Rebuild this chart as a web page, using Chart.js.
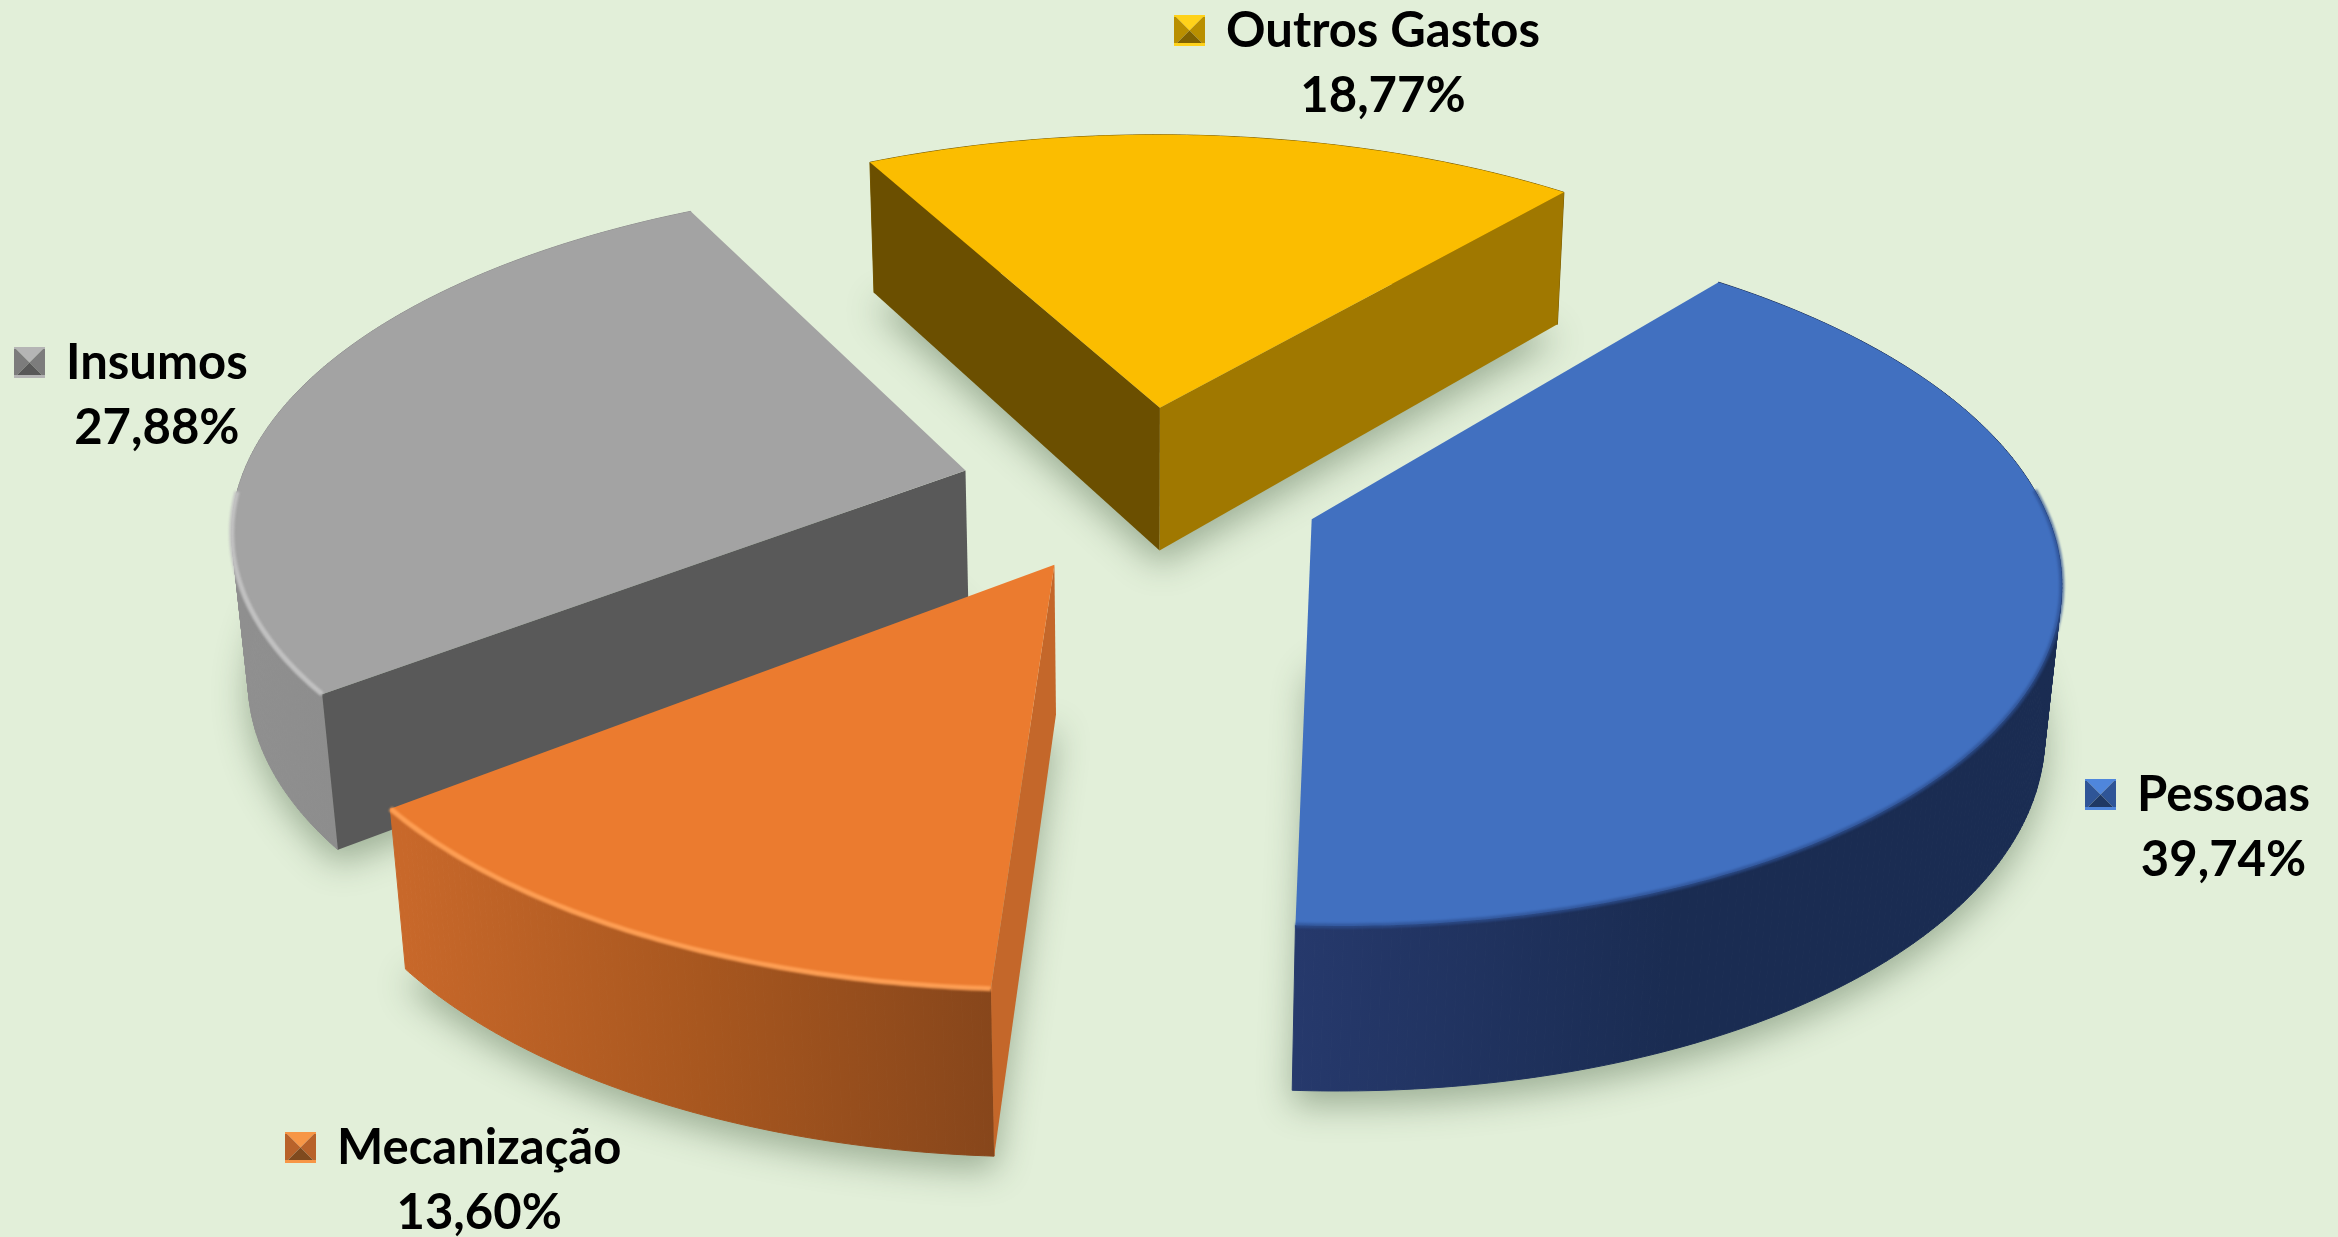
<!DOCTYPE html>
<html>
<head>
<meta charset="utf-8">
<style>
  html, body { margin: 0; padding: 0; background: #e2efd9; }
  #wrap { width: 2338px; height: 1237px; }
</style>
<script src="https://cdn.jsdelivr.net/npm/chart.js@4/dist/chart.umd.js"></script>
</head>
<body>
<div id="wrap"><canvas id="pie" width="2338" height="1237"></canvas></div>
<script>
const categories = ['Pessoas', 'Mecanização', 'Insumos', 'Outros Gastos'];
const values = [39.74, 13.60, 27.88, 18.77];
const valueLabels = ['39,74%', '13,60%', '27,88%', '18,77%'];
const colors = ['#4170c0', '#eb7b2f', '#a3a3a3', '#fbbd00'];

// left end and middle height of each category name
const labelPos = [[2137, 795], [337, 1148], [66, 363], [1226, 31]];

// fake 3d camera
const view = { cx: 1141, cy: 488, depth: 168, sin: 0.462, cos: 0.887, dist: 4320 };

function project(X, Y, Z) {
  const v = Y * view.sin - Z * view.cos;
  const w = Y * view.cos + Z * view.sin;
  const s = view.dist / (view.dist - w);
  return [view.cx + X * s, view.cy + v * s];
}

function trace(ctx, pts) {
  ctx.beginPath();
  pts.forEach((p, i) => i ? ctx.lineTo(p[0], p[1]) : ctx.moveTo(p[0], p[1]));
  ctx.closePath();
}

function sliceGeometry(chart, arc) {
  const shift = (arc.options.offset || 0) / 4;
  const mid = (arc.startAngle + arc.endAngle) / 2;
  const ox = arc.x - chart.width / 2 + Math.cos(mid) * shift;
  const oy = arc.y - chart.height / 2 + Math.sin(mid) * shift;
  const rim = [];
  const n = Math.ceil((arc.endAngle - arc.startAngle) * 90);
  for (let i = 0; i <= n; i++) {
    const a = arc.startAngle + (arc.endAngle - arc.startAngle) * i / n;
    rim.push([ox + Math.cos(a) * arc.outerRadius, oy + Math.sin(a) * arc.outerRadius]);
  }
  return { ox, oy, rim };
}

// side shades, left to right along the wall
const wallShades = [
  ['#26396c', '#1a2c52', '#1a2c52'],
  ['#c8682a', '#a8571f', '#87461b'],
  ['#8f8f8f', '#8a8a8a', '#8c8c8c'],
  ['#7a5c00', '#7a5c00', '#7a5c00']
];
// cut faces, start edge then end edge
const cutShades = [
  ['#a07800', '#1e3560'],
  ['#c4672a', '#8a491c'],
  ['#595959', '#595959'],
  ['#6b4f00', '#a07800']
];
const rimLight = ['rgba(45,80,145,0.7)', 'rgba(255,160,85,0.95)', 'rgba(195,195,195,0.95)', 'rgba(0,0,0,0)'];
const keyShades = [
  ['#4f86dc', '#2f5597', '#1f3864'],
  ['#f79646', '#b8622a', '#7f4a1e'],
  ['#b5b5b5', '#7c7c7c', '#585858'],
  ['#ffd21a', '#b98f00', '#806200']
];

function drawSlice(ctx, chart, arc, i) {
  const g = sliceGeometry(chart, arc);
  const h = -view.depth;
  const apexT = project(g.ox, g.oy, 0);
  const apexB = project(g.ox, g.oy, h);
  const top = g.rim.map(p => project(p[0], p[1], 0));
  const bot = g.rim.map(p => project(p[0], p[1], h));

  // outer wall, strip by strip with a thin stroke to hide the seams
  const xs = bot.map(p => p[0]);
  const grad = ctx.createLinearGradient(Math.min(...xs), 0, Math.max(...xs), 0);
  wallShades[i].forEach((c, k) => grad.addColorStop(k / 2, c));
  ctx.fillStyle = grad;
  ctx.strokeStyle = grad;
  ctx.lineWidth = 1;
  for (let k = 0; k < top.length - 1; k++) {
    trace(ctx, [top[k], top[k + 1], bot[k + 1], bot[k]]);
    ctx.fill();
    ctx.stroke();
  }

  // cut faces, only those turned to the viewer
  if (-Math.cos(arc.startAngle) > 0) {
    trace(ctx, [apexT, top[0], bot[0], apexB]);
    ctx.fillStyle = cutShades[i][0];
    ctx.fill();
  }
  if (Math.cos(arc.endAngle) > 0) {
    const k = top.length - 1;
    trace(ctx, [apexT, top[k], bot[k], apexB]);
    ctx.fillStyle = cutShades[i][1];
    ctx.fill();
  }

  // top face
  trace(ctx, [apexT, ...top]);
  ctx.fillStyle = colors[i];
  ctx.fill();

  // soft bevel along the front edge
  ctx.save();
  ctx.beginPath();
  let pen = false;
  top.forEach((p, k) => {
    if (g.rim[k][1] < 0) { pen = false; return; }
    if (pen) ctx.lineTo(p[0], p[1]); else ctx.moveTo(p[0], p[1]);
    pen = true;
  });
  ctx.strokeStyle = rimLight[i];
  ctx.lineWidth = 5;
  ctx.filter = 'blur(1px)';
  ctx.stroke();
  ctx.restore();
}

function drawShadow(ctx, chart, arc) {
  const g = sliceGeometry(chart, arc);
  const bot = g.rim.map(p => project(p[0], p[1], -view.depth));
  const far = 5000;
  ctx.save();
  ctx.shadowColor = 'rgba(60,85,55,0.42)';
  ctx.shadowBlur = 34;
  ctx.shadowOffsetX = far;
  ctx.shadowOffsetY = 14;
  trace(ctx, [project(g.ox, g.oy, -view.depth), ...bot].map(p => [p[0] - far, p[1]]));
  ctx.fillStyle = '#000';
  ctx.fill();
  ctx.restore();
}

function drawKey(ctx, x, y, i) {
  const s = 31;
  const [light, mid, dark] = keyShades[i];
  const cx = x + s / 2, cy = y + s / 2;
  const tri = (pts, c) => { trace(ctx, pts); ctx.fillStyle = c; ctx.fill(); };
  tri([[x, y], [x + s, y], [cx, cy]], light);
  tri([[x, y], [x, y + s], [cx, cy]], mid);
  tri([[x + s, y], [x + s, y + s], [cx, cy]], mid);
  tri([[x, y + s], [x + s, y + s], [cx, cy]], dark);
  ctx.fillStyle = light;
  ctx.fillRect(x, y + s - 3, s, 3);
  ctx.fillRect(x, y, s, 2);
}

const pie3d = {
  id: 'pie3d',
  beforeDatasetsDraw(chart) {
    const ctx = chart.ctx;
    const arcs = chart.getDatasetMeta(0).data;
    // back to front
    const order = [3, 2, 0, 1];
    order.forEach(i => drawShadow(ctx, chart, arcs[i]));
    order.forEach(i => drawSlice(ctx, chart, arcs[i], i));

    ctx.textBaseline = 'middle';
    ctx.font = 'bold 49px Lato';
    categories.forEach((name, i) => {
      const [x, y] = labelPos[i];
      const w = ctx.measureText(name).width;
      drawKey(ctx, x - 52, y - 16, i);
      ctx.fillStyle = '#000';
      ctx.textAlign = 'left';
      ctx.fillText(name, x, y);
      ctx.textAlign = 'center';
      ctx.fillText(valueLabels[i], x + w / 2, y + 65);
    });
    return false;
  },
  beforeDatasetDraw() {
    return false;
  }
};

new Chart(document.getElementById('pie'), {
  type: 'pie',
  data: {
    labels: categories,
    datasets: [{
      data: values,
      backgroundColor: colors,
      borderWidth: 0,
      offset: 724
    }]
  },
  options: {
    responsive: false,
    animation: false,
    rotation: 40,
    radius: 727,
    layout: { padding: 0 },
    plugins: { legend: { display: false }, tooltip: { enabled: false } }
  },
  plugins: [pie3d]
});
</script>
</body>
</html>
